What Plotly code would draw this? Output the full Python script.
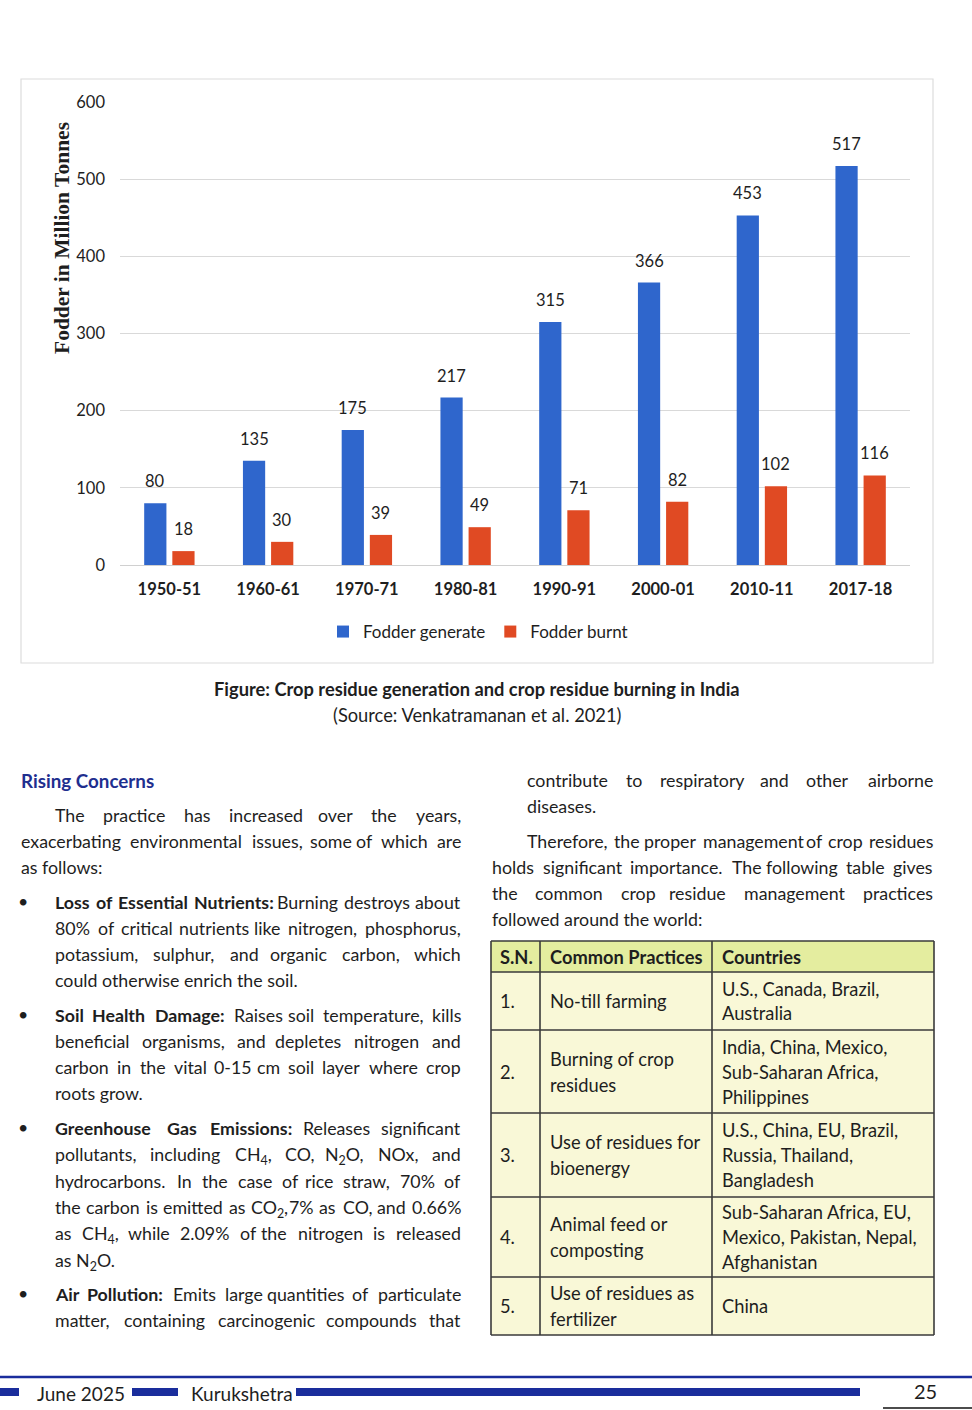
import re
import plotly.graph_objects as go

W, H = 972, 1410

# ---------------- data ----------------
periods = ["1950-51", "1960-61", "1970-71", "1980-81", "1990-91", "2000-01", "2010-11", "2017-18"]
fodder_generate = [80, 135, 175, 217, 315, 366, 453, 517]
fodder_burnt = [18, 30, 39, 49, 71, 82, 102, 116]
y_ticks = [0, 100, 200, 300, 400, 500, 600]

y_title = "Fodder in Million Tonnes"
caption = "Figure: Crop residue generation and crop residue burning in India"
source = "(Source: Venkatramanan et al. 2021)"

heading = "Rising Concerns"
# (kind, text, justified)
left_lines = [
    ("i", "The practice has increased over the years,", True),
    ("p", "exacerbating environmental issues, some of which are", True),
    ("p", "as follows:", False),
    ("b", "<b>Loss of Essential Nutrients:</b> Burning destroys about", True),
    ("c", "80% of critical nutrients like nitrogen, phosphorus,", True),
    ("c", "potassium, sulphur, and organic carbon, which", True),
    ("c", "could otherwise enrich the soil.", False),
    ("b", "<b>Soil Health Damage:</b> Raises soil temperature, kills", True),
    ("c", "beneficial organisms, and depletes nitrogen and", True),
    ("c", "carbon in the vital 0-15 cm soil layer where crop", True),
    ("c", "roots grow.", False),
    ("b", "<b>Greenhouse Gas Emissions:</b> Releases significant", True),
    ("c", "pollutants, including CH<sub>4</sub>, CO, N<sub>2</sub>O, NOx, and", True),
    ("c", "hydrocarbons. In the case of rice straw, 70% of", True),
    ("c", "the carbon is emitted as CO<sub>2</sub>, 7% as CO, and 0.66%", True),
    ("c", "as CH<sub>4</sub>, while 2.09% of the nitrogen is released", True),
    ("c", "as N<sub>2</sub>O.", False),
    ("b", "<b>Air Pollution:</b> Emits large quantities of particulate", True),
    ("c", "matter, containing carcinogenic compounds that", True),
]
heading_y = 780
left_y = [814, 840, 866, 901, 927, 953, 979, 1014, 1040, 1066, 1092,
          1127, 1153, 1180, 1206, 1232, 1259, 1293, 1319]

right_lines = [
    ("c", "contribute to respiratory and other airborne", True),
    ("c", "diseases.", False),
    ("i", "Therefore, the proper management of crop residues", True),
    ("p", "holds significant importance. The following table gives", True),
    ("p", "the common crop residue management practices", True),
    ("p", "followed around the world:", False),
]
right_y = [779, 805, 840, 866, 892, 918]

table_header = ["S.N.", "Common Practices", "Countries"]
table_sn = ["1.", "2.", "3.", "4.", "5."]
table_practice = [
    ["No-till farming"],
    ["Burning of crop", "residues"],
    ["Use of residues for", "bioenergy"],
    ["Animal feed or", "composting"],
    ["Use of residues as", "fertilizer"],
]
table_countries = [
    ["U.S., Canada, Brazil,", "Australia"],
    ["India, China, Mexico,", "Sub-Saharan Africa,", "Philippines"],
    ["U.S., China, EU, Brazil,", "Russia, Thailand,", "Bangladesh"],
    ["Sub-Saharan Africa, EU,", "Mexico, Pakistan, Nepal,", "Afghanistan"],
    ["China"],
]

footer_month = "June 2025"
footer_mag = "Kurukshetra"
page_no = "25"

# ---------------- styling ----------------
FONT = "Lato, 'Open Sans', sans-serif"
TXT = "#1e1e1e"
BLUE = "#2f66cc"
RED = "#e04a23"
NAVY = "#1a2d9c"
BODY = 17.8      # running text
TBL = 18.3       # table and caption
TOP_OFF = 12     # distance from line centre to annotation box top


def X(px):
    return px / W


def Y(py):
    return 1 - py / H


# approximate advance widths (em) used only to spread words of justified lines
CW = {c: w for c, w in zip("abcdefghijklmnopqrstuvwxyz",
                           [.49, .55, .45, .55, .51, .31, .49, .55, .23, .23, .49, .23, .83,
                            .55, .55, .55, .55, .36, .41, .34, .55, .49, .75, .48, .49, .44])}
CW.update({c: w for c, w in zip("ABCDEFGHIJKLMNOPQRSTUVWXYZ",
                                [.65, .62, .66, .72, .55, .52, .71, .73, .27, .37, .63, .49, .87,
                                 .73, .78, .59, .78, .62, .52, .56, .71, .65, .98, .62, .60, .58])})
CW.update({d: .58 for d in "0123456789"})
CW.update({",": .2, ".": .2, ":": .22, "%": .75, "-": .33, "(": .3, ")": .3})
KW = 1.034


def parse_words(line):
    words, bold = [], False
    for part in re.split(r"(</?b>)", line):
        if part == "<b>":
            bold = True
            continue
        if part == "</b>":
            bold = False
            continue
        for w in part.split(" "):
            if w:
                words.append((w, bold))
    return words


def word_width(raw, bold, size):
    total, scale = 0.0, 1.0
    for seg in re.split(r"(</?sub>)", raw):
        if seg == "<sub>":
            scale = 0.7
            continue
        if seg == "</sub>":
            scale = 1.0
            continue
        total += sum(CW.get(c, 0.55) for c in seg) * scale
    return total * size * KW * (1.04 if bold else 1.0)


ann = []


def text_line(text, left, right, yy, justify, size=BODY):
    base = dict(xref="paper", yref="paper", y=Y(yy - TOP_OFF), yanchor="top", showarrow=False,
                font=dict(family=FONT, size=size, color=TXT))
    words = parse_words(text)
    n = len(words)
    if justify and n > 1:
        widths = [word_width(w, b, size) for w, b in words]
        gap = (right - left - sum(widths)) / (n - 1)
        if gap >= 3:
            half = (n + 1) // 2
            pos = left
            for i in range(half):
                w, b = words[i]
                t = "<b>%s</b>" % w if b else w
                ann.append(dict(base, x=X(pos), xanchor="left", text=t))
                pos += widths[i] + gap
            pos = right
            for i in range(n - 1, half - 1, -1):
                w, b = words[i]
                t = "<b>%s</b>" % w if b else w
                ann.append(dict(base, x=X(pos), xanchor="right", text=t))
                pos -= widths[i] + gap
            return
    ann.append(dict(base, x=X(left), xanchor="left", text=text))


fig = go.Figure()
fig.add_trace(go.Bar(name="Fodder generate", x=periods, y=fodder_generate,
                     marker=dict(color=BLUE, line=dict(width=0))))
fig.add_trace(go.Bar(name="Fodder burnt", x=periods, y=fodder_burnt,
                     marker=dict(color=RED, line=dict(width=0))))

# data labels
for series, shift in ((fodder_generate, -14), (fodder_burnt, 14)):
    for p, v in zip(periods, series):
        ann.append(dict(x=p, y=v, xref="x", yref="y", text=str(v), showarrow=False,
                        xshift=shift, yshift=10, yanchor="bottom",
                        font=dict(family=FONT, size=16.5, color=TXT)))

# y-axis title
ann.append(dict(x=X(62), y=Y(238), xref="paper", yref="paper", text="<b>%s</b>" % y_title,
                textangle=-90, showarrow=False, xanchor="center", yanchor="middle",
                font=dict(family="'Liberation Serif', 'DejaVu Serif', serif", size=21.5, color=TXT)))

# caption
ann.append(dict(x=X(477), y=Y(689), xref="paper", yref="paper", text="<b>%s</b>" % caption,
                showarrow=False, font=dict(family=FONT, size=TBL, color=TXT)))
ann.append(dict(x=X(477), y=Y(715), xref="paper", yref="paper", text=source,
                showarrow=False, font=dict(family=FONT, size=TBL, color=TXT)))

# left column
ann.append(dict(x=X(19), y=Y(heading_y), xref="paper", yref="paper", text="<b>%s</b>" % heading,
                xanchor="left", yanchor="middle", showarrow=False,
                font=dict(family=FONT, size=TBL + 0.5, color="#1f2f8f")))
for (kind, t, just), yy in zip(left_lines, left_y):
    x0 = {"i": 53, "p": 19, "b": 53, "c": 53}[kind]
    if kind == "b":
        ann.append(dict(x=X(23), y=Y(yy), xref="paper", yref="paper", text="•",
                        xanchor="center", yanchor="middle", showarrow=False,
                        font=dict(family=FONT, size=BODY, color=TXT)))
    text_line(t, x0, 463, yy, just)

# right column
for (kind, t, just), yy in zip(right_lines, right_y):
    x0 = {"i": 525, "p": 490, "c": 525}[kind]
    text_line(t, x0, 935, yy, just)

# table
col_x = [491, 540, 712, 934]
row_y = [941, 972, 1030, 1113, 1197, 1277, 1335]
shapes = []
shapes.append(dict(type="rect", xref="paper", yref="paper", x0=X(col_x[0]), x1=X(col_x[-1]),
                   y0=Y(row_y[1]), y1=Y(row_y[0]), fillcolor="#e4ed9f", line=dict(width=0), layer="below"))
shapes.append(dict(type="rect", xref="paper", yref="paper", x0=X(col_x[0]), x1=X(col_x[-1]),
                   y0=Y(row_y[-1]), y1=Y(row_y[1]), fillcolor="#f9f8d7", line=dict(width=0), layer="below"))
for yy in row_y:
    shapes.append(dict(type="line", xref="paper", yref="paper", x0=X(col_x[0]), x1=X(col_x[-1]),
                       y0=Y(yy), y1=Y(yy), line=dict(color="#3a3a3a", width=1.6)))
for xx in col_x:
    shapes.append(dict(type="line", xref="paper", yref="paper", x0=X(xx), x1=X(xx),
                       y0=Y(row_y[0]), y1=Y(row_y[-1]), line=dict(color="#3a3a3a", width=1.6)))

hx = [498, 548, 720]
for t, xx in zip(table_header, hx):
    ann.append(dict(x=X(xx), y=Y(957), xref="paper", yref="paper", text="<b>%s</b>" % t,
                    xanchor="left", yanchor="middle", showarrow=False,
                    font=dict(family=FONT, size=TBL, color=TXT)))

for i in range(5):
    top, bot = row_y[i + 1], row_y[i + 2]
    mid = (top + bot) / 2
    ann.append(dict(x=X(498), y=Y(mid), xref="paper", yref="paper", text=table_sn[i],
                    xanchor="left", yanchor="middle", showarrow=False,
                    font=dict(family=FONT, size=TBL, color=TXT)))
    for col, lines, xx in ((1, table_practice[i], 548), (2, table_countries[i], 720)):
        n = len(lines)
        lh = 25 if col == 2 else 26
        for k, line in enumerate(lines):
            yy = mid + (k - (n - 1) / 2) * lh
            ann.append(dict(x=X(xx), y=Y(yy), xref="paper", yref="paper", text=line,
                            xanchor="left", yanchor="middle", showarrow=False,
                            font=dict(family=FONT, size=TBL, color=TXT)))

# chart frame
shapes.append(dict(type="rect", xref="paper", yref="paper", x0=X(21), x1=X(933),
                   y0=Y(663), y1=Y(79), line=dict(color="#dcdcdc", width=1.2), layer="below"))

# footer
shapes.append(dict(type="line", xref="paper", yref="paper", x0=0, x1=1, y0=Y(1377), y1=Y(1377),
                   line=dict(color=NAVY, width=2.5)))
for a, b in ((0, 19), (132, 178), (296, 860)):
    shapes.append(dict(type="rect", xref="paper", yref="paper", x0=X(a), x1=X(b),
                       y0=Y(1396), y1=Y(1388), fillcolor=NAVY, line=dict(width=0)))
shapes.append(dict(type="line", xref="paper", yref="paper", x0=X(883), x1=1, y0=Y(1408), y1=Y(1408),
                   line=dict(color="#111", width=1.5)))
ann.append(dict(x=X(35), y=Y(1393), xref="paper", yref="paper", text=footer_month, xanchor="left",
                yanchor="middle", showarrow=False, font=dict(family=FONT, size=19, color=TXT)))
ann.append(dict(x=X(189), y=Y(1393), xref="paper", yref="paper", text=footer_mag, xanchor="left",
                yanchor="middle", showarrow=False, font=dict(family=FONT, size=19, color=TXT)))
ann.append(dict(x=X(925), y=Y(1391), xref="paper", yref="paper", text=page_no, xanchor="center",
                yanchor="middle", showarrow=False, font=dict(family=FONT, size=20, color=TXT)))

fig.update_layout(
    width=W, height=H,
    margin=dict(l=0, r=0, t=0, b=0, pad=0, autoexpand=False),
    paper_bgcolor="white", plot_bgcolor="white",
    barmode="group", bargap=0.43, bargroupgap=0.21,
    font=dict(family=FONT, color=TXT),
    xaxis=dict(type="category", domain=[X(120), X(910)], showgrid=False, zeroline=False,
               showline=False, automargin=False,
               tickfont=dict(family=FONT, size=16.5, color=TXT), ticks="", ticklabelstandoff=12,
               tickprefix="<b>", ticksuffix="</b>", anchor="y"),
    yaxis=dict(domain=[Y(565), Y(102)], range=[0, 600], tickvals=y_ticks, automargin=False,
               showgrid=True, gridcolor="#d9d9d9", gridwidth=1, zeroline=True,
               zerolinecolor="#d0d0d0", zerolinewidth=1, showline=False, ticks="",
               ticklabelstandoff=14, tickfont=dict(family=FONT, size=16.5, color=TXT)),
    legend=dict(orientation="h", x=X(478), y=Y(632), xanchor="center", yanchor="middle",
                font=dict(family=FONT, size=17, color=TXT), itemwidth=30,
                bgcolor="rgba(0,0,0,0)"),
    annotations=ann,
    shapes=shapes,
)

fig.write_html("out.html", config={"displayModeBar": False},
               post_script="document.body.style.margin='0px';")
